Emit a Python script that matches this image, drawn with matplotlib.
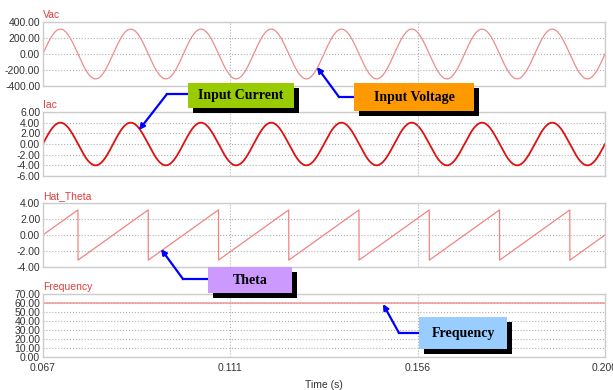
import matplotlib
matplotlib.use("Agg")
import matplotlib.pyplot as plt
import numpy as np
from matplotlib.patches import Rectangle, FancyArrowPatch
from matplotlib.lines import Line2D

plt.rcParams['font.family'] = ['Liberation Sans', 'DejaVu Sans']
plt.rcParams['axes.unicode_minus'] = False

# Values
t_start, t_end = 0.0667, 0.2
x_ticks = [0.0667, 0.1111, 0.1556, 0.2]
x_tick_labels = ['0.067', '0.111', '0.156', '0.200']
line_freq = 60.0          # Hz
vac_peak = 311.0          # V
iac_peak = 4.0            # A
freq_value = 60.0         # Hz, estimated frequency trace

panel_names = ['Vac', 'Iac', 'Hat_Theta', 'Frequency']
vac_ticks = [-400, -200, 0, 200, 400]
iac_ticks = [-6, -4, -2, 0, 2, 4, 6]
theta_ticks = [-4, -2, 0, 2, 4]
freq_ticks = [0, 10, 20, 30, 40, 50, 60, 70]

t = np.linspace(t_start, t_end, 6000)
phase = 2 * np.pi * line_freq * t
vac = vac_peak * np.sin(phase)
iac = iac_peak * np.sin(phase)
theta = np.angle(np.exp(1j * phase))
freq = np.full_like(t, freq_value)

W, H = 613, 390
def fx(x):
    return x / W
def fy(y):
    return 1 - y / H

fig = plt.figure(figsize=(W / 100, H / 100), dpi=100)

# axes rectangles in pixel rows (top, bottom)
rows = [(22, 86), (112, 176), (203, 267), (294, 357)]
left, right = 43, 605
series = [vac, iac, theta, freq]
ticks = [vac_ticks, iac_ticks, theta_ticks, freq_ticks]
colors = ['#ec8c8c', '#e01010', '#f08484', '#f08484']
widths = [0.9, 1.3, 0.9, 0.9]

axes = []
for i, (top, bot) in enumerate(rows):
    ax = fig.add_axes([fx(left), fy(bot), fx(right) - fx(left), (bot - top) / H])
    ax.plot(t, series[i], color=colors[i], lw=widths[i])
    ax.set_xlim(t_start, t_end)
    ax.set_ylim(ticks[i][0], ticks[i][-1])
    ax.set_yticks(ticks[i])
    ax.set_yticklabels(['%.2f' % v for v in ticks[i]])
    ax.set_xticks(x_ticks)
    if i < 3:
        ax.set_xticklabels([])
    else:
        ax.set_xticklabels(x_tick_labels)
        ax.set_xlabel('Time (s)', fontsize=7.5, color='#333333', labelpad=5)
    ax.tick_params(axis='y', length=0, labelsize=7.5, labelcolor='#333333', pad=2)
    ax.tick_params(axis='x', length=0, labelsize=7.5, labelcolor='#333333', pad=4)
    ax.grid(True, axis='y', linestyle=':', color='#b0b0b0', lw=0.8)
    for xv in x_ticks[1:3]:
        ax.axvline(xv, linestyle=':', color='#b0b0b0', lw=0.8)
    for s in ax.spines.values():
        s.set_color('#cccccc')
        s.set_linewidth(1.0)
    ax.text(0, 1.03, panel_names[i], transform=ax.transAxes, color='#e03c3c',
            fontsize=7.5, va='bottom', ha='left')
    axes.append(ax)

# annotation boxes: (label, facecolor, box x0, y0, x1, y1, arrow elbow y, elbow x, tip x, tip y)
notes = [
    ('Input Current', '#99cc00', 188, 83, 294, 108, 94, 167, 139, 130),
    ('Input Voltage', '#ff9900', 354, 83, 474, 111, 97, 339, 317, 67),
    ('Theta', '#cc99ff', 208, 267, 292, 293, 279, 183, 161, 249),
    ('Frequency', '#99ccff', 419, 317, 507, 349, 333, 399, 383, 304),
]
for label, fc, x0, y0, x1, y1, ey, ex, tx, ty in notes:
    shadow = Rectangle((fx(x0 + 5), fy(y1 + 5)), (x1 - x0) / W, (y1 - y0) / H,
                       transform=fig.transFigure, facecolor='black', edgecolor='none', zorder=5)
    box = Rectangle((fx(x0), fy(y1)), (x1 - x0) / W, (y1 - y0) / H,
                    transform=fig.transFigure, facecolor=fc, edgecolor='none', zorder=6)
    fig.add_artist(shadow)
    fig.add_artist(box)
    fig.text(fx((x0 + x1) / 2), fy((y0 + y1) / 2), label, ha='center', va='center',
             fontsize=10, fontweight='bold', family=['Liberation Serif', 'DejaVu Serif'],
             color='black', zorder=7)
    fig.add_artist(Line2D([fx(x0), fx(ex)], [fy(ey), fy(ey)], transform=fig.transFigure,
                          color='#0000ff', lw=1.6, zorder=4))
    fig.add_artist(FancyArrowPatch((fx(ex), fy(ey)), (fx(tx), fy(ty)), transform=fig.transFigure,
                                   arrowstyle='-|>', mutation_scale=8, color='#0000ff', lw=1.6,
                                   shrinkA=0, shrinkB=0, zorder=4))

fig.savefig('out.png', dpi=100)
